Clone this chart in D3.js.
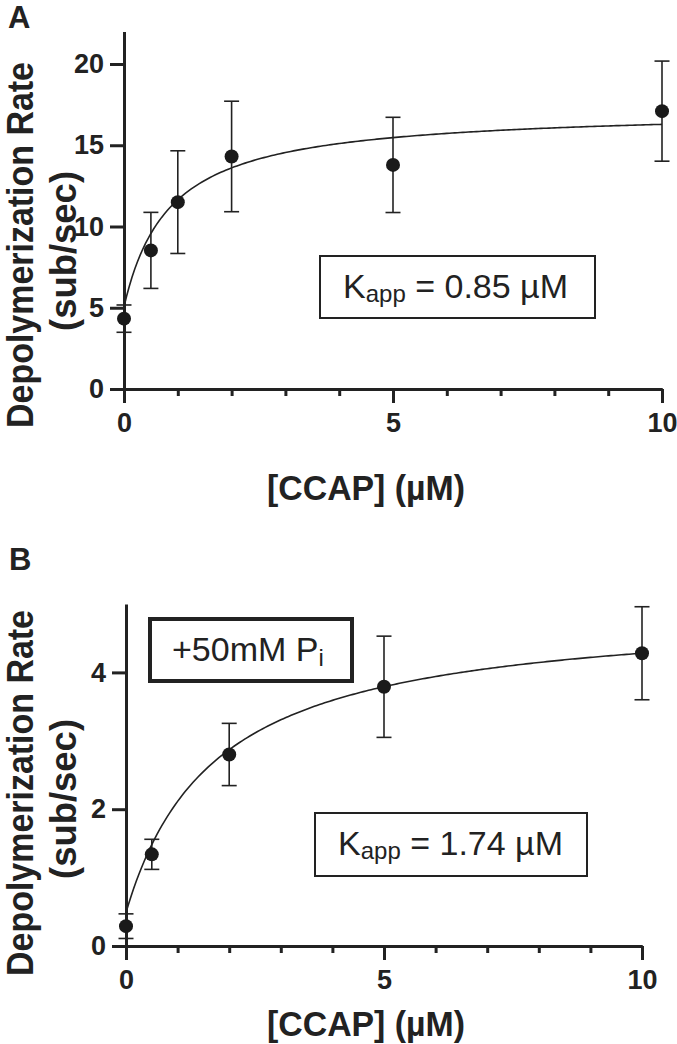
<!DOCTYPE html>
<meta charset="utf-8">
<script src="https://d3js.org/d3.v7.min.js"></script>
<style>
  body { margin: 0; background: #fff; }
  svg { font-family: "Liberation Sans", Arial, sans-serif; }
</style>
<svg width="677" height="1044"></svg>
<script>
// panel A: no phosphate
const concA = [0, 0.5, 1, 2, 5, 10];
const rateA = [4.33, 8.53, 11.5, 14.31, 13.79, 17.1];
const semA = [0.84, 2.34, 3.16, 3.4, 2.93, 3.08];
const fitA = { y0: 5.06, vmax: 12.18, k: 0.85 };
const yTicksA = [0, 5, 10, 15, 20];

// panel B: +50 mM Pi
const concB = [0, 0.5, 2, 5, 10];
const rateB = [0.29, 1.34, 2.8, 3.79, 4.28];
const semB = [0.18, 0.22, 0.455, 0.74, 0.68];
const fitB = { y0: 0.49, vmax: 4.45, k: 1.74 };
const yTicksB = [0, 2, 4];

const xMajor = [0, 5, 10];
const xMinor = [1, 2, 3, 4, 6, 7, 8, 9];

const svg = d3.select("svg");
const ink = "#222";

function panel(opt) {
  const x = d3.scaleLinear().domain([0, 10]).range(opt.xr);
  const y = d3.scaleLinear().domain(opt.yd).range(opt.yr);
  const g = svg.append("g");
  const y0 = y(0);

  // axes
  g.append("g")
      .attr("transform", `translate(${x(0)},0)`)
      .call(d3.axisLeft(y).tickValues(opt.yTicks).tickFormat(d3.format("d"))
        .tickSize(14).tickPadding(6).tickSizeOuter(0));
  g.append("g")
      .attr("transform", `translate(0,${y0})`)
      .call(d3.axisBottom(x).tickValues(xMinor).tickSize(7).tickFormat("").tickSizeOuter(0));
  g.append("g")
      .attr("transform", `translate(0,${y0})`)
      .call(d3.axisBottom(x).tickValues(xMajor).tickSize(14).tickPadding(10).tickSizeOuter(0));
  g.selectAll(".domain, .tick line")
      .attr("stroke", ink).attr("stroke-width", 3);
  g.selectAll(".tick text")
      .attr("fill", ink).attr("font-size", 27).attr("font-weight", "bold")
      .attr("font-family", "'Liberation Sans', Arial, sans-serif");

  // fitted curve
  const line = d3.line()
      .x(d => x(d))
      .y(d => y(opt.fit.y0 + opt.fit.vmax * d / (opt.fit.k + d)));
  g.append("path")
      .datum(d3.range(0, 10.001, 0.05))
      .attr("d", line)
      .attr("fill", "none").attr("stroke", ink).attr("stroke-width", 1.6);

  // error bars
  const pts = opt.conc.map((c, i) => ({ c, m: opt.rate[i], s: opt.sem[i] }));
  const eb = g.append("g").attr("stroke", ink).attr("stroke-width", 1.6);
  eb.selectAll("line.v").data(pts).join("line")
      .attr("x1", d => x(d.c)).attr("x2", d => x(d.c))
      .attr("y1", d => y(d.m - d.s)).attr("y2", d => y(d.m + d.s));
  eb.selectAll("line.hi").data(pts).join("line")
      .attr("x1", d => x(d.c) - 7.5).attr("x2", d => x(d.c) + 7.5)
      .attr("y1", d => y(d.m + d.s)).attr("y2", d => y(d.m + d.s));
  eb.selectAll("line.lo").data(pts).join("line")
      .attr("x1", d => x(d.c) - 7.5).attr("x2", d => x(d.c) + 7.5)
      .attr("y1", d => y(d.m - d.s)).attr("y2", d => y(d.m - d.s));

  g.append("g").selectAll("circle").data(pts).join("circle")
      .attr("cx", d => x(d.c)).attr("cy", d => y(d.m))
      .attr("r", 7).attr("fill", "#1a1a1a");

  // labels
  g.append("text").attr("x", opt.letter[0]).attr("y", opt.letter[1])
      .attr("font-size", 31).attr("font-weight", "bold").attr("fill", ink)
      .text(opt.name);
  const yl = g.append("text")
      .attr("transform", `translate(33,${opt.ylab}) rotate(-90)`)
      .attr("text-anchor", "middle").attr("font-size", 36).attr("font-weight", "bold").attr("fill", ink);
  yl.append("tspan").attr("x", 0).attr("y", 0)
      .attr("textLength", 366).attr("lengthAdjust", "spacingAndGlyphs")
      .text("Depolymerization Rate");
  yl.append("tspan").attr("x", -6).attr("y", 43)
      .attr("textLength", 160).attr("lengthAdjust", "spacingAndGlyphs")
      .text("(sub/sec)");
  g.append("text")
      .attr("x", 366).attr("y", opt.xlab)
      .attr("text-anchor", "middle").attr("font-size", 35).attr("font-weight", "bold").attr("fill", ink)
      .attr("textLength", 198).attr("lengthAdjust", "spacingAndGlyphs")
      .text("[CCAP] (µM)");

  // K_app box
  const b = opt.kbox;
  g.append("rect").attr("x", b[0]).attr("y", b[1]).attr("width", b[2]).attr("height", b[3])
      .attr("fill", "#fff").attr("stroke", ink).attr("stroke-width", 2);
  const kt = g.append("text").attr("x", b[0] + 23).attr("y", b[1] + 42)
      .attr("font-size", 34).attr("fill", ink);
  kt.append("tspan").text("K");
  kt.append("tspan").attr("font-size", 24).attr("dy", 4).text("app");
  kt.append("tspan").attr("dy", -4).text(` = ${opt.fit.k.toFixed(2)} µM`);
  return g;
}

panel({
  name: "A", letter: [8, 28],
  xr: [124, 662], yd: [0, 22], yr: [389, 31.5], yTicks: yTicksA,
  conc: concA, rate: rateA, sem: semA, fit: fitA,
  ylab: 245, xlab: 500, kbox: [320, 256, 275, 62]
});

const gB = panel({
  name: "B", letter: [9, 570],
  xr: [126, 642], yd: [0, 5], yr: [946, 604], yTicks: yTicksB,
  conc: concB, rate: rateB, sem: semB, fit: fitB,
  ylab: 793, xlab: 1036, kbox: [315, 813, 272, 63]
});

// phosphate condition box
gB.append("rect").attr("x", 150).attr("y", 619).attr("width", 202).attr("height", 62)
    .attr("fill", "#fff").attr("stroke", ink).attr("stroke-width", 4);
const pt = gB.append("text").attr("x", 172).attr("y", 661).attr("font-size", 34).attr("fill", ink);
pt.append("tspan").text("+50mM P");
pt.append("tspan").attr("font-size", 24).attr("dy", 5).text("i");
</script>
